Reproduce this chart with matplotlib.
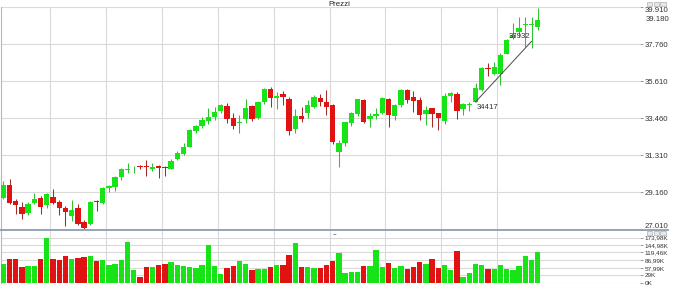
import matplotlib
matplotlib.use("Agg")
import matplotlib.pyplot as plt
from matplotlib.patches import Rectangle
from matplotlib.lines import Line2D
import numpy as np

plt.rcParams['font.family'] = ['Liberation Sans Narrow', 'Liberation Sans', 'DejaVu Sans']

# ---------------- data ----------------
opens = [28867, 29622, 28693, 28305, 27976, 28557, 28848, 28441, 28925, 28596,
         28266, 27802, 28247, 27434, 27317, 28673, 28557, 29429, 29487, 30049,
         30475, 30552, 30707, 30688, 30494, 30707, 30610, 30533, 31114, 31404,
         31811, 32741, 33012, 33322, 33554, 33903, 34194, 33458, 33206, 33419,
         34174, 33458, 34426, 35162, 34620, 34872, 34600, 32857, 33593, 33768,
         34136, 34659, 34387, 34232, 31482, 32044, 33167, 33709, 34523, 33438,
         33613, 33787, 34581, 33593, 34213, 35104, 34678, 34523, 33709, 34039,
         33748, 33322, 34775, 34852, 33981, 34213, 34426, 35104, 36402, 36034,
         36034, 37215, 38106, 38494, 38901, 38901, 38784]
highs = [29816, 29913, 28809, 28615, 28615, 29138, 28944, 29158, 29390, 28751,
         28402, 28751, 28518, 27550, 28654, 28712, 29487, 29584, 30107, 30552,
         30843, 30707, 30746, 31036, 30843, 30765, 30668, 31075, 31579, 32044,
         32818, 33070, 33516, 34039, 34097, 34291, 34368, 33748, 33651, 34581,
         34213, 34465, 35201, 35259, 35007, 35065, 34717, 33981, 34116, 34523,
         34814, 34872, 35104, 34271, 32199, 33264, 33806, 34600, 34562, 33787,
         34039, 34678, 34620, 34271, 35143, 35143, 35065, 34717, 34174, 34077,
         33787, 34910, 35007, 35007, 34329, 34407, 35530, 36460, 36692, 36712,
         37235, 38087, 38978, 39327, 39365, 39327, 39850]
lows = [28809, 28518, 27918, 27647, 27879, 28480, 27898, 28286, 28480, 27840,
        27201, 27492, 27298, 27046, 27298, 28092, 28518, 29196, 29254, 29874,
        30262, 30281, 30494, 30126, 30417, 30010, 30126, 30494, 31017, 31327,
        31772, 32586, 32877, 33128, 33361, 33787, 33206, 32838, 32625, 33206,
        33283, 33419, 34291, 34097, 34019, 34232, 32489, 32586, 33245, 33477,
        34039, 34174, 33671, 31966, 30649, 31850, 33012, 33593, 33206, 32973,
        33419, 33709, 32973, 33361, 34136, 34329, 33845, 33361, 33070, 32935,
        32780, 33128, 34426, 33419, 33651, 33884, 34417, 35065, 35918, 35956,
        35395, 37177, 38068, 38203, 37622, 37564, 38591]
closes = [29622, 28576, 28441, 27937, 28480, 28809, 28305, 29080, 28576, 28247,
          28015, 28170, 27356, 27124, 28596, 28635, 29429, 29526, 30049, 30494,
          30513, 30591, 30630, 30610, 30649, 30591, 30591, 30959, 31424, 31811,
          32780, 33012, 33361, 33516, 33826, 34213, 33438, 33012, 33245, 34058,
          33419, 34407, 35143, 34620, 34775, 34717, 32741, 33593, 33438, 34213,
          34678, 34387, 34136, 32102, 32005, 33225, 33748, 34562, 33245, 33593,
          33690, 34620, 33632, 34213, 35104, 34523, 34465, 33671, 33942, 33690,
          33458, 34775, 34930, 33884, 34271, 34271, 35201, 36363, 36344, 36421,
          37119, 37990, 38281, 38707, 38939, 38939, 39180]
volumes_k = [71.4, 92.2, 92.2, 59.7, 66.2, 66.2, 92.2, 173.98, 92.2, 88.3,
             103.9, 92.2, 96.1, 100.0, 103.9, 84.4, 88.3, 68.8, 72.7, 88.3,
             157.1, 49.4, 23.4, 59.7, 62.3, 70.1, 72.7, 80.5, 67.5, 64.9,
             59.7, 58.4, 68.8, 146.8, 63.6, 35.1, 55.8, 63.6, 84.4, 71.4,
             48.1, 54.5, 54.5, 62.3, 67.5, 67.5, 107.8, 154.5, 61.0, 61.0,
             57.1, 57.1, 68.8, 84.4, 115.6, 39.0, 40.3, 41.6, 63.6, 64.9,
             127.3, 61.0, 76.6, 57.1, 64.9, 51.9, 61.0, 79.2, 72.7, 93.5,
             55.8, 67.5, 49.4, 124.7, 20.8, 36.4, 71.4, 68.8, 51.9, 51.9,
             67.5, 53.2, 50.6, 64.9, 103.9, 88.3, 119.46]

price_ticks = [27010, 29160, 31310, 33460, 35610, 37760, 39910]
vol_ticks_k = [0, 29.0, 57.99, 86.99, 144.98, 173.98]
period_breaks = [8, 17, 26, 35, 44, 53, 62, 71, 80]
trend_idx = [76, 85]
trend_val = [34417, 37932]
title_text = "Prezzi"
vol_title = "--"

# ---------------- style ----------------
GREEN = '#16e416'
RED = '#e01212'
GREEN_W = '#2fc42f'
RED_W = '#a42a2a'
GRID = '#dadada'
TXT = '#333333'
FS = 5.6
VFS = 4.6

W, H = 681.0, 306.0
def fx(px):
    return px / W
def fy(py):
    return 1 - py / H

fig = plt.figure(figsize=(6.81, 3.06), dpi=100)
fig.patch.set_facecolor('white')

ax = fig.add_axes([fx(1), fy(229.5), fx(640) - fx(1), fy(7.3) - fy(229.5)])
axv = fig.add_axes([fx(1), fy(282.7), fx(640) - fx(1), fy(230.8) - fy(282.7)])

o = np.array(opens, float); h = np.array(highs, float)
l = np.array(lows, float); c = np.array(closes, float)
v = np.array(volumes_k, float)
x = np.arange(len(o))
up = c >= o
cols = np.where(up, GREEN, RED)
wcols = np.where(up, GREEN_W, RED_W)

# candles
ax.vlines(x, l, h, colors=wcols, lw=0.75, zorder=3)
body_h = np.maximum(np.abs(c - o), 40)
body_b = (o + c) / 2 - body_h / 2
ax.bar(x, body_h, bottom=body_b, width=0.86, color=cols, lw=0, zorder=4)

# volume
axv.bar(x, v, width=0.86, color=cols, lw=0, zorder=3)

xl = (-0.37, 102.46)
for a in (ax, axv):
    a.set_xlim(*xl)
    for b in period_breaks:
        a.axvline(b - 0.5, color=GRID, lw=0.8, zorder=1)
    a.set_xticks([])
    for s in ('top', 'right', 'bottom'):
        a.spines[s].set_visible(False)
    a.spines['left'].set_color('#b8b8b8')
    a.spines['left'].set_linewidth(0.8)
    a.yaxis.tick_right()
    a.tick_params(axis='y', direction='out', length=2.2, width=0.6, pad=1.0,
                  color='#888888', labelcolor=TXT, labelsize=FS)
    a.yaxis.grid(True, color=GRID, lw=0.8, zorder=1)
    a.set_axisbelow(True)
    a.set_facecolor('white')

ax.set_ylim(price_ticks[0], price_ticks[-1])
ax.set_yticks(price_ticks)
ax.set_yticklabels([f"{t:,}".replace(',', '.') for t in price_ticks])
pt = ax.yaxis.get_major_ticks()
pt[0].label2.set_va('bottom')
pt[-1].label2.set_va('top')

def kfmt(val):
    s = f"{val:.2f}".rstrip('0').rstrip('.')
    return s.replace('.', ',') + 'K'

vt = vol_ticks_k + [volumes_k[-1]]
axv.set_ylim(0, 202)
axv.set_yticks(vt)
axv.set_yticklabels([kfmt(t) for t in vt])
axv.tick_params(axis='y', labelsize=VFS)
vts = axv.yaxis.get_major_ticks()
for tk, val in zip(vts, vt):
    if val >= 144:
        tk.label2.set_va('center')
    else:
        tk.label2.set_va('center_baseline')

# last close marker
ax.annotate(f"{closes[-1]:,}".replace(',', '.'), xy=(1, closes[-1]),
            xycoords=('axes fraction', 'data'), xytext=(4.2, 0),
            textcoords='offset points', ha='left', va='center',
            fontsize=FS, color=TXT, annotation_clip=False)

# trend line + labels
ax.plot(trend_idx, trend_val, color='#4a4a4a', lw=0.7, zorder=5)
ax.annotate(str(trend_val[0]), xy=(trend_idx[0], trend_val[0]), xytext=(0.5, -1.5),
            textcoords='offset points', ha='left', va='top', fontsize=FS, color=TXT, zorder=6)
ax.annotate(str(trend_val[1]), xy=(trend_idx[1], trend_val[1]), xytext=(-1.0, 1.2),
            textcoords='offset points', ha='right', va='bottom', fontsize=FS, color=TXT, zorder=6)

# panel separator line
fig.add_artist(Line2D([fx(0), fx(668)], [fy(229.8), fy(229.8)], color='#8c9db2', lw=1.3))

# titles
fig.text(fx(339), fy(4.3), title_text, ha='center', va='center', fontsize=FS, color='#222222')
fig.text(fx(335), fy(234.5), vol_title, ha='center', va='center', fontsize=5, color='#555555')

# window buttons
for yy in (1.8, 231.2):
    for xx in (647.0, 653.6, 660.4):
        fig.add_artist(Rectangle((fx(xx), fy(yy + 4.0)), 5.2 / W, 4.0 / H,
                                 transform=fig.transFigure, facecolor='#e8e8e8',
                                 edgecolor='#a0a0a0', lw=0.4))

fig.savefig('out.png', dpi=100, facecolor='white')
